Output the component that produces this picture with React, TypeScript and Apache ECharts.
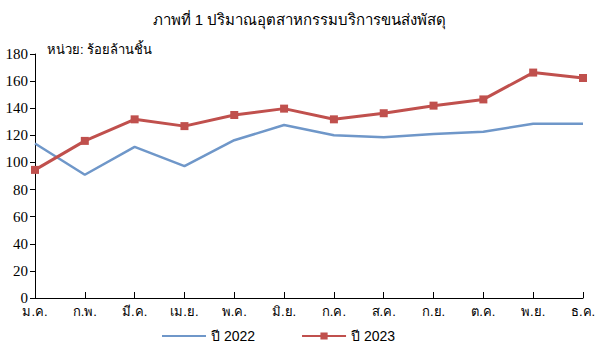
import React, { useEffect, useRef } from "react";
import * as echarts from "echarts";

const months = ["ม.ค.", "ก.พ.", "มี.ค.", "เม.ย.", "พ.ค.", "มิ.ย.", "ก.ค.", "ส.ค.", "ก.ย.", "ต.ค.", "พ.ย.", "ธ.ค."];
const y2022 = [114, 90.9, 111.5, 97.3, 116.4, 127.6, 120.1, 118.6, 120.9, 122.6, 128.6, 128.6];
const y2023 = [94.5, 115.9, 131.8, 126.8, 135, 139.7, 131.8, 136.3, 141.9, 146.5, 166.3, 162.3];
const seriesNames = ["ปี 2022", "ปี 2023"];
const titleText = "ภาพที่ 1 ปริมาณอุตสาหกรรมบริการขนส่งพัสดุ";
const unitText = "หน่วย: ร้อยล้านชิ้น";

export default function App() {
  const ref = useRef<HTMLDivElement>(null);
  useEffect(() => {
    if (!ref.current) return;
    const chart = echarts.init(ref.current, undefined, { renderer: "svg" });
    chart.setOption({
      animation: false,
      backgroundColor: "#ffffff",
      title: {
        text: titleText,
        left: "center",
        top: 7,
        textStyle: { fontSize: 15, fontWeight: "normal", color: "#000", fontFamily: "Tahoma, sans-serif" },
      },
      graphic: [
        {
          type: "text",
          left: 47,
          top: 43,
          style: { text: unitText, fontSize: 13, fill: "#000", fontFamily: "Tahoma, sans-serif" },
        },
      ],
      grid: { left: 35, right: 16, top: 54, bottom: 57, containLabel: false },
      legend: {
        bottom: 7,
        left: 156,
        itemGap: 46,
        itemWidth: 44,
        itemHeight: 9,
        textStyle: { fontSize: 14, color: "#000", fontFamily: "Arial, sans-serif" },
        data: [
          { name: seriesNames[0], itemStyle: { opacity: 0 } },
          { name: seriesNames[1] },
        ],
      },
      xAxis: {
        type: "category",
        data: months,
        boundaryGap: false,
        axisLine: { lineStyle: { color: "#000", width: 1 } },
        axisTick: { inside: true, length: 6, lineStyle: { color: "#000" } },
        axisLabel: { color: "#000", fontSize: 13, margin: 7, fontFamily: "Tahoma, sans-serif" },
        splitLine: { show: false },
      },
      yAxis: {
        type: "value",
        min: 0,
        max: 180,
        interval: 20,
        axisLine: { show: true, lineStyle: { color: "#000", width: 1 } },
        axisTick: { show: true, length: 5, lineStyle: { color: "#000" } },
        axisLabel: { color: "#000", fontSize: 15, margin: 7, fontFamily: "Liberation Serif" },
        splitLine: { show: false },
      },
      series: [
        {
          name: seriesNames[0],
          type: "line",
          data: y2022,
          symbol: "none",
          lineStyle: { color: "#6f97c9", width: 2.5 },
          itemStyle: { color: "#6f97c9" },
        },
        {
          name: seriesNames[1],
          type: "line",
          data: y2023,
          symbol: "rect",
          symbolSize: 8,
          lineStyle: { color: "#c0504d", width: 3 },
          itemStyle: { color: "#c0504d" },
        },
      ],
    });
    return () => chart.dispose();
  }, []);
  return <div ref={ref} style={{ width: 599, height: 355, position: "absolute", left: 0, top: 0 }} />;
}
